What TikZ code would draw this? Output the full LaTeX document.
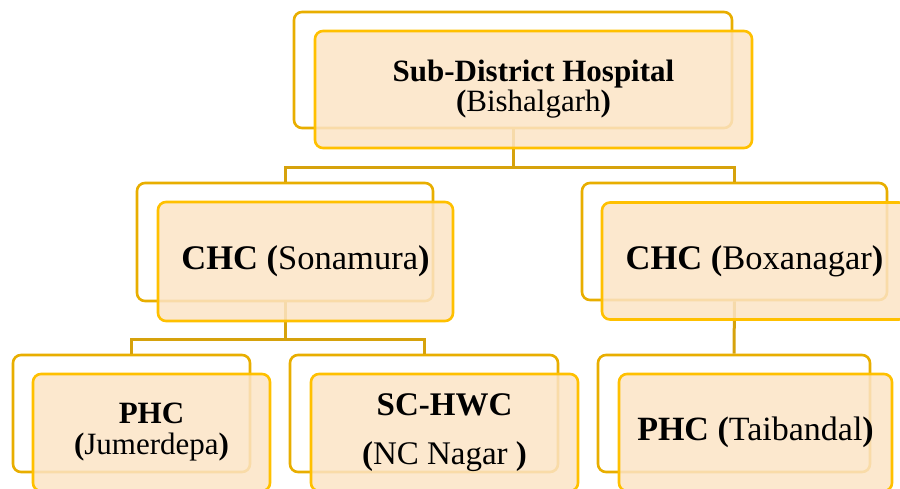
\documentclass[tikz,border=0pt]{standalone}
\usepackage{fontspec}
\setmainfont{Liberation Serif}
\definecolor{boxgold}{HTML}{FFC000}
\definecolor{backgold}{HTML}{E8AE00}
\definecolor{linkgold}{HTML}{D6A20C}
\definecolor{peach}{HTML}{FCE4C6}
\tikzset{
  backbox/.style={draw=backgold, line width=2.6pt, rounded corners=8pt, inner sep=0pt},
  frontbox/.style={draw=boxgold, line width=2.6pt, rounded corners=8pt, fill=peach,
    fill opacity=0.85, text opacity=1, align=center, inner sep=0pt},
  link/.style={draw=linkgold, line width=3pt},
}
\begin{document}
\begin{tikzpicture}[x=1pt,y=-1pt]
      \useasboundingbox (0,0) rectangle (900,489);
      \clip (0,0) rectangle (900,489);
      \draw
        (513,70) node[backbox, minimum width=438pt, minimum height=116pt] (sdhB){}
        (285,242) node[backbox, minimum width=296pt, minimum height=118pt] (chcSB){}
        (734.5,241.5) node[backbox, minimum width=305pt, minimum height=117pt] (chcBB){}
        (131.5,413.5) node[backbox, minimum width=237pt, minimum height=117pt] (phcJB){}
        (424,413.5) node[backbox, minimum width=268pt, minimum height=117pt] (scB){}
        (734,413.5) node[backbox, minimum width=272pt, minimum height=117pt] (phcTB){};
      \begin{scope}[link]
        \draw (sdhB.south) -- ++(0,38) -| (chcSB.north);
        \draw (sdhB.south) -- ++(0,38) -| (chcBB.north);
        \draw (chcSB.south) -- ++(0,37) -| (phcJB.north);
        \draw (chcSB.south) -- ++(0,37) -| (scB.north);
        \draw (chcBB.south) -- (phcTB.north);
      \end{scope}
      \draw
        (533.5,89.5) node[frontbox, minimum width=437pt, minimum height=117pt,
          font=\fontsize{31pt}{30pt}\selectfont] (sdh)
          {\textbf{Sub-District Hospital}\\\textbf{(}Bishalgarh\textbf{)}}
        (305.5,261.5) node[frontbox, minimum width=295pt, minimum height=119pt,
          font=\fontsize{34.5pt}{34pt}\selectfont] (chcS)
          {\textbf{CHC (}Sonamura\textbf{)}}
        (754.5,261) node[frontbox, minimum width=305pt, minimum height=117pt,
          font=\fontsize{34.5pt}{34pt}\selectfont] (chcB)
          {\textbf{CHC (}Boxanagar\textbf{)}}
        (151.5,432.5) node[frontbox, minimum width=237pt, minimum height=117pt,
          font=\fontsize{31pt}{31pt}\selectfont] (phcJ)
          {\textbf{PHC}\\\textbf{(}Jumerdepa\textbf{)}}
        (444.5,432.5) node[frontbox, minimum width=267pt, minimum height=117pt,
          font=\fontsize{33pt}{31pt}\selectfont] (sc)
          {\textbf{SC-HWC}\\[18pt]\textbf{(}NC Nagar \textbf{)}}
        (755.5,432.5) node[frontbox, minimum width=273pt, minimum height=117pt,
          font=\fontsize{34pt}{34pt}\selectfont] (phcT)
          {\textbf{PHC (}Taibandal\textbf{)}};
    \end{tikzpicture}
\end{document}
